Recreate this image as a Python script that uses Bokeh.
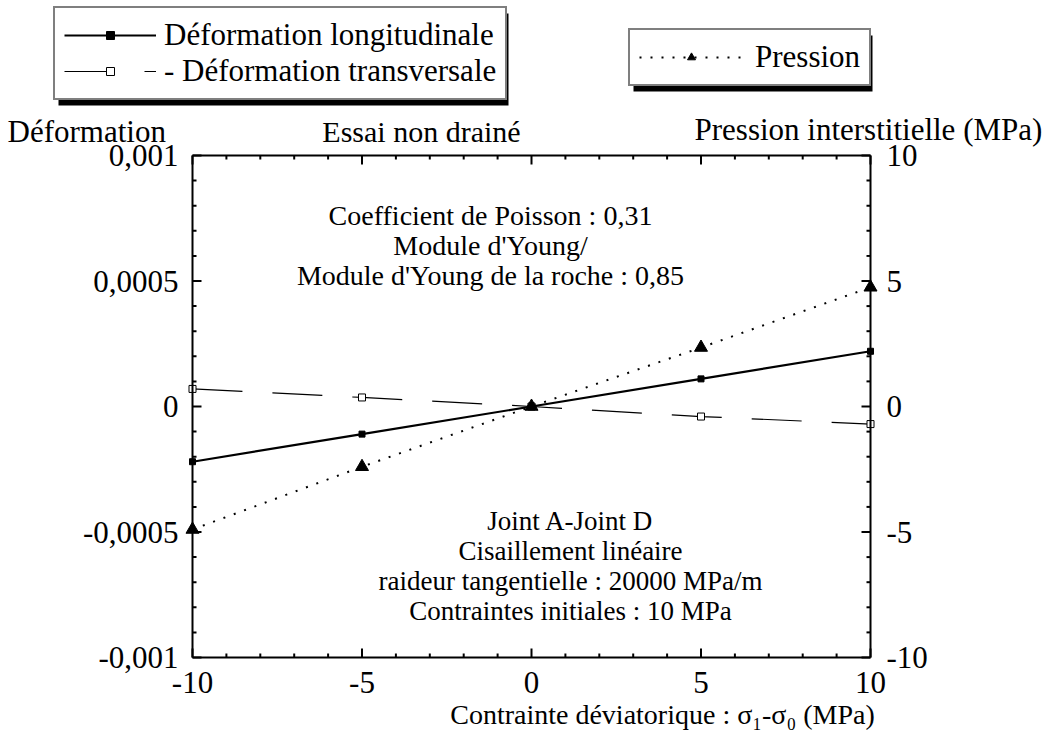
from bokeh.plotting import figure
from bokeh.models import (Range1d, LinearAxis, FixedTicker, CustomJSTickFormatter,
                          Label, Legend, LegendItem, BoxAnnotation)
from bokeh.embed import file_html
from bokeh.resources import INLINE

# ---------------- data ----------------
contrainte = [-10, -5, 0, 5, 10]                      # sigma1 - sigma0 (MPa)
deformation_longitudinale = [-0.00022, -0.00011, 0.0, 0.00011, 0.00022]
deformation_transversale = [0.00007, 0.000036, 0.0, -0.00004, -0.00007]
pression = [-4.9, -2.4, 0.0, 2.35, 4.75]              # MPa (right axis)

x_ticks = [-10, -5, 0, 5, 10]
y_ticks = [-0.001, -0.0005, 0, 0.0005, 0.001]
p_ticks = [-10, -5, 0, 5, 10]
x_minor = list(range(-10, 11))
y_minor = [i * 0.0001 for i in range(-10, 11)]
p_minor = list(range(-10, 11))

FONT = "Liberation Serif"

# plotting box placement on the canvas (pixels)
FX0, FX1, FY0, FY1 = 192, 870, 155, 657
W, H = 1044, 740
UX = 20.0 / (FX1 - FX0)        # x data units per pixel
UY = 0.002 / (FY1 - FY0)       # left-axis units per pixel
TMAJ, TMIN = 9, 4              # tick lengths (px)


def px_x(px):
    return -10 + (px - FX0) * UX


def px_y(py):
    return 0.001 - (py - FY0) * UY


p = figure(width=W, height=H,
           x_range=Range1d(px_x(0), px_x(W)), y_range=Range1d(px_y(H), px_y(0)),
           output_backend="svg", toolbar_location=None, min_border=0)
p.extra_y_ranges = {"p": Range1d(px_y(H) * 10000, px_y(0) * 10000)}
p.xgrid.visible = False
p.ygrid.visible = False
p.outline_line_color = None
p.background_fill_color = "white"
p.border_fill_color = "white"

fmt = CustomJSTickFormatter(code="return tick.toString().replace('.', ',');")
blank = CustomJSTickFormatter(code="return '';")


def label_axis(ax, loc, bounds, standoff, labels=True):
    ax.fixed_location = loc
    ax.bounds = bounds
    ax.axis_line_color = "black"
    ax.axis_line_width = 2
    ax.major_tick_in = 0
    ax.major_tick_out = 0
    ax.minor_tick_in = 0
    ax.minor_tick_out = 0
    ax.major_label_text_font = FONT
    ax.major_label_text_font_size = "31px"
    ax.major_label_text_color = "black"
    ax.major_label_standoff = standoff
    ax.formatter = fmt if labels else blank
    ax.axis_label = None


bottom = p.xaxis[0]
bottom.ticker = FixedTicker(ticks=x_ticks, minor_ticks=x_minor)
label_axis(bottom, -0.001, (-10, 10), 14)

left = p.yaxis[0]
left.ticker = FixedTicker(ticks=y_ticks, minor_ticks=y_minor)
label_axis(left, -10, (-0.001, 0.001), 14)

right = LinearAxis(y_range_name="p", ticker=FixedTicker(ticks=p_ticks, minor_ticks=p_minor))
label_axis(right, 10, (-10, 10), 16)
p.add_layout(right, "right")

top = LinearAxis(ticker=FixedTicker(ticks=x_ticks, minor_ticks=x_minor))
label_axis(top, 0.001, (-10, 10), 10, labels=False)
p.add_layout(top, "above")


# inward ticks on the four sides, from the tick lists through the scales
def tick_len(v, majors):
    return TMAJ if any(abs(v - m) < 1e-12 for m in majors) else TMIN


n = len(x_minor)
p.segment(x0=x_minor, y0=[-0.001] * n, x1=x_minor,
          y1=[-0.001 + tick_len(v, x_ticks) * UY for v in x_minor],
          line_color="black", line_width=2)
p.segment(x0=x_minor, y0=[0.001] * n, x1=x_minor,
          y1=[0.001 - tick_len(v, x_ticks) * UY for v in x_minor],
          line_color="black", line_width=2)
p.segment(x0=[-10] * len(y_minor), y0=y_minor,
          x1=[-10 + tick_len(v, y_ticks) * UX for v in y_minor], y1=y_minor,
          line_color="black", line_width=2)
p.segment(x0=[10] * len(p_minor), y0=p_minor,
          x1=[10 - tick_len(v, p_ticks) * UX for v in p_minor], y1=p_minor,
          y_range_name="p", line_color="black", line_width=2)

# ---------------- series ----------------
l_long = p.line(contrainte, deformation_longitudinale, line_color="black", line_width=2.2)
m_long = p.scatter(contrainte, deformation_longitudinale, marker="square", size=6,
                   fill_color="black", line_color="black")
l_trans = p.line(contrainte, deformation_transversale, line_color="black", line_width=1.2,
                 line_dash="50 30")
m_trans = p.scatter(contrainte, deformation_transversale, marker="square", size=7,
                    fill_color="white", line_color="black", line_width=1)
l_pres = p.line(contrainte, pression, y_range_name="p", line_color="black", line_width=2,
                line_dash="2 9")
m_pres = p.scatter(contrainte, pression, y_range_name="p", marker="triangle", size=13,
                   fill_color="black", line_color="black")

# ---------------- legend boxes (with drop shadow) ----------------
S = 5
# shadows: boxes offset by S px behind the legend frames (canvas px: left, top, right, bottom)
for (bl, bt, br, bb) in [(53, 8, 503, 100), (628, 30, 867, 86)]:
    p.add_layout(BoxAnnotation(left=px_x(bl + S), right=px_x(br + S),
                               top=px_y(bt + S), bottom=px_y(bb + S),
                               fill_color="black", fill_alpha=1, line_color=None))


def make_legend(items, loc, padding, glyph_width, standoff, spacing):
    lg = Legend(items=items, location=loc, orientation="vertical")
    lg.label_text_font = FONT
    lg.label_text_font_size = "31px"
    lg.glyph_width = glyph_width
    lg.glyph_height = 20
    lg.label_standoff = standoff
    lg.padding = padding
    lg.spacing = spacing
    lg.margin = 0
    lg.border_line_color = "black"
    lg.border_line_width = 2
    lg.background_fill_alpha = 1
    lg.background_fill_color = "white"
    lg.label_text_color = "black"
    return lg


items1 = [LegendItem(label="Déformation longitudinale", renderers=[l_long, m_long]),
          LegendItem(label="- Déformation transversale", renderers=[l_trans, m_trans])]
items2 = [LegendItem(label="Pression", renderers=[l_pres, m_pres])]

p.add_layout(make_legend(items1, (53, H - 100), 9, 92, 8, -10))
p.add_layout(make_legend(items2, (628, H - 86), 9, 104, 12, 0))

# ---------------- texts ----------------
def add_text(txt, px, py, size="28px", align="center"):
    p.add_layout(Label(x=px_x(px), y=px_y(py), text=txt, text_font=FONT,
                       text_font_size=size, text_align=align, text_baseline="middle",
                       text_color="black"))


add_text("Essai non drainé", 421, 131, "30px")
add_text("Déformation", 7, 131, "31px", "left")
add_text("Pression interstitielle (MPa)", 694, 129, "31px", "left")

for i, t in enumerate(["Coefficient de Poisson : 0,31", "Module d'Young/",
                       "Module d'Young de la roche : 0,85"]):
    add_text(t, 490, 215 + 30 * i)

for i, t in enumerate(["Joint A-Joint D", "Cisaillement linéaire",
                       "raideur tangentielle : 20000 MPa/m",
                       "Contraintes initiales : 10 MPa"]):
    add_text(t, 570, 520 + 30 * i, "27px")

add_text("Contrainte déviatorique : σ₁-σ₀ (MPa)", 662, 714, "28px")

open("out.html", "w").write(file_html(p, INLINE))
